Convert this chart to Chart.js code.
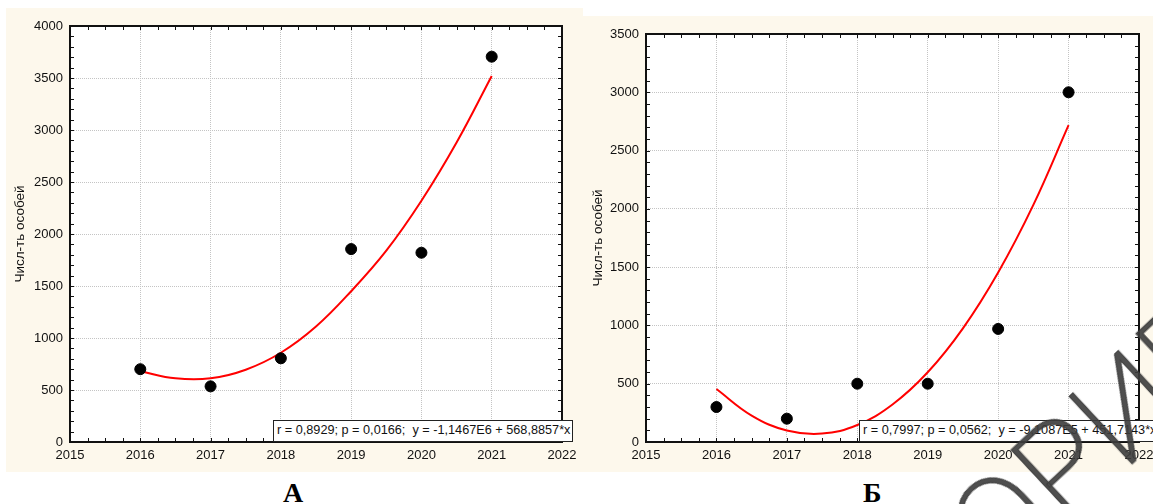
<!DOCTYPE html>
<html><head><meta charset="utf-8">
<script src="https://cdn.jsdelivr.net/npm/chart.js@4.4.1/dist/chart.umd.min.js"></script>
<style>
html,body{margin:0;padding:0;width:1153px;height:504px;overflow:hidden;background:#fff;}
body{position:relative;}
.panel{position:absolute;background:#FDF8EC;}
#pA{left:6px;top:8px;width:577px;height:464px;}
#pB{left:583px;top:16px;width:590px;height:456px;}
.panel canvas{position:absolute;left:0;top:0;}
.stat{position:absolute;background:#fff;border:1px solid #222;font:12.7px "Liberation Sans",Arial,sans-serif;color:#111;white-space:pre;line-height:19px;padding-left:3px;box-sizing:border-box;height:22px;}
.lbl{position:absolute;font:bold 28px "Liberation Serif","Times New Roman",serif;line-height:28px;color:#000;}
.wm{position:absolute;font:200 130px Roboto,"Open Sans",sans-serif;color:rgba(60,60,60,0.9);-webkit-text-stroke:1.2px rgba(60,60,60,0.9);white-space:nowrap;line-height:130px;transform-origin:0 100%;transform:rotate(-43deg);}
</style></head>
<body>
<div class="panel" id="pA"><canvas id="cA" width="577" height="464"></canvas></div>
<div class="panel" id="pB"><canvas id="cB" width="590" height="456"></canvas></div>
<div class="stat" style="left:273px;top:420px;width:300px;">r = 0,8929; p = 0,0166;  y = -1,1467E6 + 568,8857*x</div>
<div class="stat" style="left:859px;top:420px;width:320px;">r = 0,7997; p = 0,0562;  y = -9,1087E5 + 451,7143*x</div>
<div class="lbl" style="left:283px;top:479px;">А</div>
<div class="lbl" style="left:863px;top:479px;">Б</div>
<div class="wm" style="left:1016px;top:471px;">ОРИГИНАЛ</div>
<script>
// ---- data ----
const years = [2016, 2017, 2018, 2019, 2020, 2021];
const countA = [700, 535, 805, 1855, 1820, 3705];
const countB = [300, 200, 500, 500, 970, 3000];
const fitYears = [2016, 2016.5, 2017, 2017.5, 2018, 2018.5, 2019, 2019.5, 2020, 2020.5, 2021];
const fitA = [680, 612, 612, 695, 858, 1110, 1450, 1840, 2320, 2880, 3520];
const fitB = [455, 227, 99, 72, 146, 322, 598, 975, 1454, 2034, 2718];
const xTicks = [2015, 2016, 2017, 2018, 2019, 2020, 2021, 2022];
const yTicksA = [0, 500, 1000, 1500, 2000, 2500, 3000, 3500, 4000];
const yTicksB = [0, 500, 1000, 1500, 2000, 2500, 3000, 3500];
const yTitle = 'Числ-ть особей';
const X_MINOR = 0.25, Y_MINOR = 100;

const FONT = '"Liberation Sans", Arial, sans-serif';

const framePlugin = {
  id: 'frame',
  beforeDraw(chart) {
    const {ctx, chartArea: a} = chart;
    ctx.save();
    ctx.fillStyle = '#ffffff';
    ctx.fillRect(a.left, a.top, a.right - a.left, a.bottom - a.top);
    ctx.restore();
  },
  afterDraw(chart) {
    const {ctx, chartArea: a, scales: {x, y}} = chart;
    ctx.save();
    ctx.strokeStyle = '#111';
    ctx.lineWidth = 1;
    ctx.beginPath();
    for (let v = x.min; v <= x.max + 1e-9; v += X_MINOR) {
      const px = Math.round(x.getPixelForValue(v)) + 0.5;
      ctx.moveTo(px, a.top); ctx.lineTo(px, a.top + 4);
      ctx.moveTo(px, a.bottom); ctx.lineTo(px, a.bottom - 4);
    }
    for (let v = y.min; v <= y.max + 1e-9; v += Y_MINOR) {
      const py = Math.round(y.getPixelForValue(v)) + 0.5;
      ctx.moveTo(a.left, py); ctx.lineTo(a.left + 4, py);
      ctx.moveTo(a.right, py); ctx.lineTo(a.right - 4, py);
    }
    ctx.stroke();
    ctx.lineWidth = 2;
    ctx.strokeRect(a.left, a.top, a.right - a.left, a.bottom - a.top);
    ctx.restore();
  }
};

function makeChart(id, counts, fit, yTicks, yMax, axisW, padRight, titlePad) {
  const pts = years.map((yr, i) => ({x: yr, y: counts[i]}));
  const curve = fitYears.map((yr, i) => ({x: yr, y: fit[i]}));
  return new Chart(document.getElementById(id), {
    type: 'scatter',
    data: {
      datasets: [
        {data: pts, backgroundColor: '#000', borderColor: '#000', pointRadius: 5.5, pointHoverRadius: 5.5, showLine: false},
        {data: curve, showLine: true, borderColor: '#ff0000', borderWidth: 2, pointRadius: 0, tension: 0.4, fill: false}
      ]
    },
    options: {
      responsive: false, animation: false,
      layout: {padding: {top: 18, right: padRight, bottom: 0, left: 0}},
      plugins: {legend: {display: false}, tooltip: {enabled: false}},
      scales: {
        x: {
          type: 'linear', min: 2015, max: 2022,
          afterBuildTicks: s => { s.ticks = xTicks.map(v => ({value: v})); },
          afterFit: s => { s.height = 30; },
          ticks: {callback: v => String(v), font: {family: FONT, size: 13}, color: '#111', padding: 6, maxRotation: 0, autoSkip: false},
          grid: {color: '#c4c4c4', lineWidth: 1, drawTicks: false},
          border: {display: false, dash: [1, 1]}
        },
        y: {
          type: 'linear', min: 0, max: yMax,
          afterBuildTicks: s => { s.ticks = yTicks.map(v => ({value: v})); },
          afterFit: s => { s.width = axisW; },
          ticks: {callback: v => String(v), font: {family: FONT, size: 13}, color: '#111', padding: 7},
          grid: {color: '#c4c4c4', lineWidth: 1, drawTicks: false},
          border: {display: false, dash: [1, 1]},
          title: {display: true, text: yTitle, font: {family: FONT, size: 13.5}, color: '#111', padding: {top: titlePad, bottom: 0}}
        }
      }
    },
    plugins: [framePlugin]
  });
}

makeChart('cA', countA, fitA, yTicksA, 4000, 64, 21, 6);
makeChart('cB', countB, fitB, yTicksB, 3500, 63, 34, 7);
</script>
</body></html>
